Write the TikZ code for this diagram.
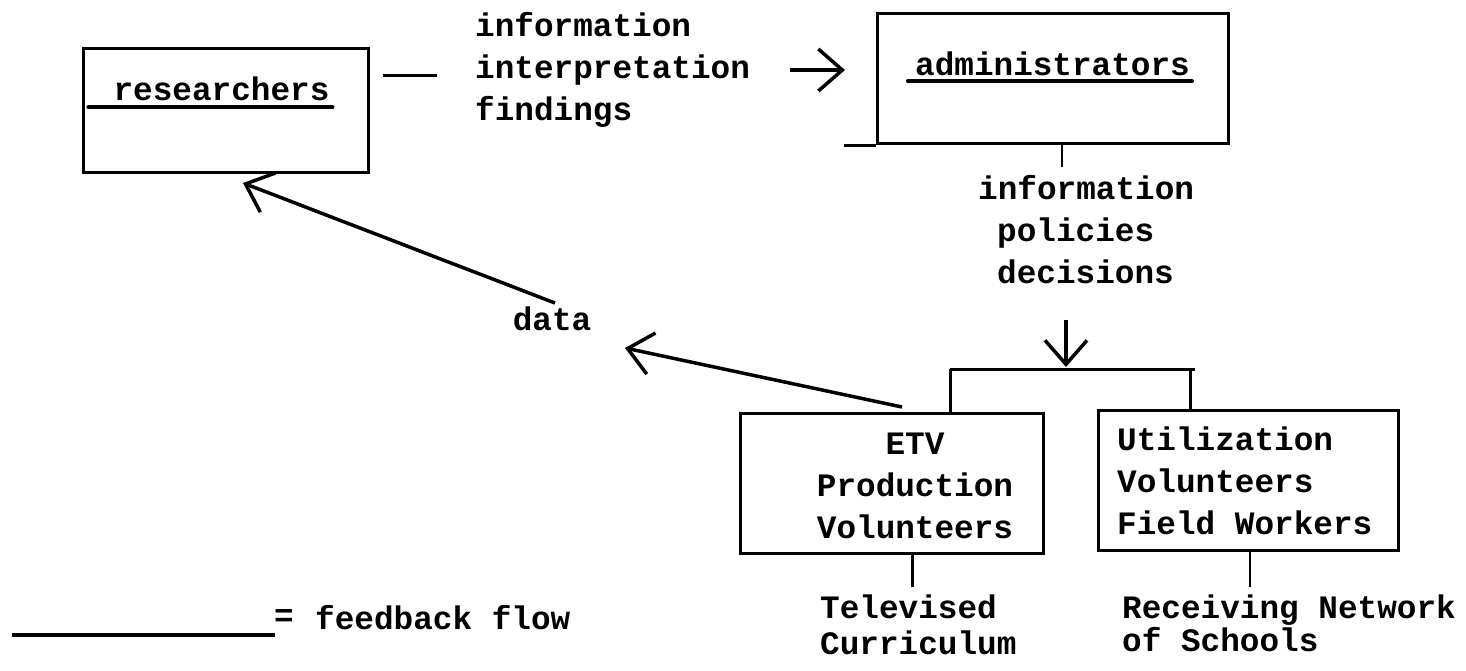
\documentclass[tikz,border=0pt]{standalone}
\usepackage{fontspec}
\setmonofont{Liberation Mono}
\usetikzlibrary{arrows.meta}
\begin{document}
\begin{tikzpicture}[x=1pt,y=-1pt,
  every node/.style={font=\ttfamily\bfseries\fontsize{32.7}{42}\selectfont, inner sep=0pt},
  box/.style={draw, line width=3pt, rectangle},
  ln/.style={line width=3pt},
  arr/.style={line width=3.5pt, -{Straight Barb[length=24pt,width=42pt,line width=3.5pt]}},
  uline/.style={line width=4pt, line cap=round}]
\useasboundingbox[fill=white] (0,0) rectangle (1466,670);

% boxes
\node[box, minimum width=285pt, minimum height=124pt] (res) at (225.5,110) {};
\node[box, minimum width=351pt, minimum height=130pt] (adm) at (1052.5,78.5) {};
\node[box, minimum width=303pt, minimum height=140pt] (etv) at (891.5,483) {};
\node[box, minimum width=300pt, minimum height=140pt] (utl) at (1248,480) {};

% box texts
\node (restxt) at (221.5,89) {researchers};
\draw[uline] (restxt.south west) ++(-25,6) -- ++(244,0);
\node (admtxt) at (1052.5,64) {administrators};
\draw[uline] (admtxt.south west) ++(-7,5) -- ++(284,0);
\node[align=center] (etvtxt) at (915,486) {ETV\\Production\\Volunteers};
\node[align=left, anchor=west] (utltxt) at (1117,481) {Utilization\\Volunteers\\Field Workers};

% labels
\node[align=left, anchor=north west] (itop) at (475,12) {information\\interpretation\\findings};
\node[align=left, anchor=north west] (imid) at (978,175) {information\\\hspace*{19pt}policies\\\hspace*{19pt}decisions};
\node (data) at (552,319) {data};
\node[align=left, anchor=north west, font=\ttfamily\bfseries\fontsize{32.7}{36}\selectfont] (tel) at (820,595) {Televised\\Curriculum};
\node[align=left, anchor=north west, font=\ttfamily\bfseries\fontsize{32.7}{33}\selectfont] (rec) at (1122,595) {Receiving Network\\of Schools};

% researchers -> administrators
\coordinate (d1) at (383,75);
\coordinate (d2) at (437,75);
\draw[ln] (d1) -- (d2);
\coordinate (a1) at (790,70);
\coordinate (a2) at (845,70);
\draw[arr] (a1) -- (a2);
\draw[ln] (adm.south west) -- ++(-32,0);

% administrators -> volunteers
\coordinate (t1) at (1062,167);
\draw[line width=2pt] (t1 |- adm.south) -- (t1);
\coordinate (v1) at (1066,320);
\coordinate (v2) at (1066,367);
\draw[arr] (v1) -- (v2);
\coordinate (b1) at (950,369);
\coordinate (b2) at (1190,369);
\draw[ln] (b1) -- ([xshift=5pt]b2);
\draw[ln] (b1) -- (b1 |- etv.north);
\draw[ln] (b2) -- (b2 |- utl.north);

% outputs
\coordinate (t2) at (912,587);
\draw[ln] (t2 |- etv.south) -- (t2);
\coordinate (t3) at (1250,587);
\draw[line width=2pt] (t3 |- utl.south) -- (t3);

% feedback
\coordinate (f1) at (902,407);
\coordinate (f2) at (625,348);
\draw[arr] (f1) -- (f2);
\coordinate (g1) at (555,303);
\coordinate (g2) at (243,183);
\draw[arr] (g1) -- (g2);

% legend
\coordinate (l1) at (12,635);
\coordinate (l2) at (275,635);
\draw[line width=4.5pt] (l1) -- (l2);
\node (eq) at (284,618) {=};
\node[anchor=west] (fb) at (315,618) {feedback flow};
\end{tikzpicture}
\end{document}
